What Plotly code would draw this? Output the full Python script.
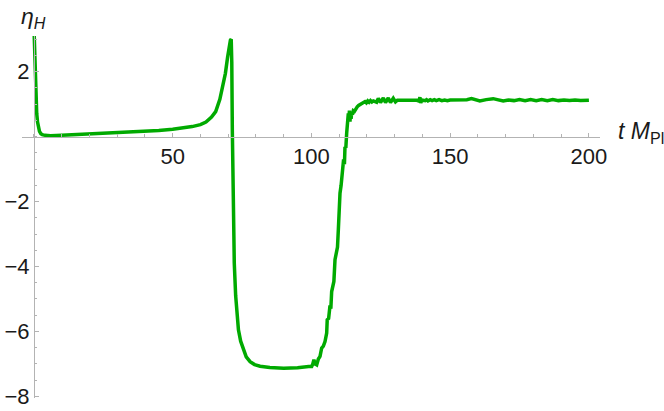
import plotly.graph_objects as go

# ---- data (t in units of 1/M_Pl, eta_H) ----
t_start = [0, 0.2, 0.4, 0.6, 0.8, 1.0, 1.3, 1.6, 2.0, 2.5, 3.0, 4.0, 6.0, 10, 15, 20, 25, 30, 35,
           40, 45, 50, 54, 57, 60, 62, 64, 65.5, 67, 68, 69, 69.8, 70.4, 70.8, 71.1]
eta_start = [3.4, 2.7, 2.0, 1.45, 1.0, 0.72, 0.45, 0.28, 0.16, 0.09, 0.06, 0.04, 0.03, 0.04, 0.06,
             0.08, 0.10, 0.12, 0.14, 0.16, 0.19, 0.23, 0.27, 0.31, 0.37, 0.45, 0.6, 0.77, 1.15, 1.5,
             1.95, 2.45, 2.8, 2.97, 3.0]

t_drop = [71.3, 71.5, 71.7, 71.9, 72.2, 72.7, 73.2, 73.7, 74.5, 75.5, 76.5, 77.9, 79.5, 81.5, 85,
          90, 95, 99]
eta_drop = [2.3, 0.2, -1.6, -2.9, -3.9, -4.9, -5.5, -5.95, -6.3, -6.56, -6.78, -6.93, -7.02, -7.07,
            -7.11, -7.13, -7.12, -7.08]

t_rise = [100.1, 100.5, 100.9, 101.3, 101.9, 102.5, 103.1, 103.7, 104.3, 104.9, 105.5, 105.7, 106.2,
          106.7, 107.0, 107.3, 107.7, 108.1, 108.5, 109.1, 109.4, 109.7, 109.9, 110.0, 110.1, 110.3,
          110.7, 111.0, 111.3, 111.6, 111.9, 112.1, 112.4, 112.7, 113.0, 113.3, 113.5, 113.7, 113.9,
          114.1, 114.3, 114.5, 114.8, 115.1, 115.5, 116.0, 116.5, 117.0, 117.5, 118.0, 118.7, 119.3,
          119.8, 120.3, 120.8, 121.3, 121.8, 122.3]
eta_rise = [-7.08, -7.0, -6.87, -7.0, -7.03, -6.85, -6.77, -6.51, -6.45, -6.31, -6.05, -5.64, -5.6,
            -5.2, -5.3, -4.77, -4.65, -4.46, -3.79, -3.43, -3.4, -2.87, -2.3, -1.8, -2.4, -1.74,
            -1.5, -1.24, -1.1, -0.7, -0.85, -0.31, -0.35, 0.1, 0.45, 0.72, 0.5, 0.8, 0.46,
            0.77, 0.55, 0.75, 0.68, 0.8, 0.78, 0.88, 0.92, 0.96, 0.99, 1.02, 1.04, 1.08,
            1.04, 1.1, 1.06, 1.11, 1.07, 1.1]

t_plateau = [123.5, 124.1, 124.9, 125.9, 126.7, 127.7, 128.5, 129.5, 130.3, 131.0, 132, 134, 136, 138,
             138.7, 139.1, 139.4, 139.8, 141, 141.5, 142, 142.8, 143.5, 144.3, 145, 146, 147, 148,
             149, 150, 152, 154, 156, 157.7, 160.7, 163, 165.5, 169.1, 171, 173, 175, 177, 179,
             181, 183, 185, 187, 189, 191, 193, 195, 197, 199, 200]
eta_plateau = [1.06, 1.18, 1.05, 1.19, 1.05, 1.19, 1.05, 1.18, 1.07, 1.12, 1.12, 1.13, 1.12, 1.12,
               1.10, 1.21, 1.04, 1.13, 1.11, 1.14, 1.10, 1.14, 1.11, 1.14, 1.11, 1.14, 1.11, 1.13,
               1.11, 1.13, 1.13, 1.13, 1.14, 1.17, 1.10, 1.14, 1.17, 1.10, 1.13, 1.11, 1.14, 1.11,
               1.14, 1.11, 1.14, 1.11, 1.14, 1.11, 1.13, 1.11, 1.13, 1.11, 1.13, 1.12]

x_ticks = [50, 100, 150, 200]
y_ticks = [-8, -6, -4, -2, 2]
y_tick_text = ["\u22128", "\u22126", "\u22124", "\u22122", "2"]

t_all = t_start + t_drop + t_rise + t_plateau
eta_all = eta_start + eta_drop + eta_rise + eta_plateau

# ---- layout parameters ----
X_MIN, X_MAX = -4.3, 204.0
Y_MIN, Y_MAX = -8.05, 3.1
AXIS_COLOR = "#b3b3b3"
FONT = "Liberation Sans, Arial, Helvetica, sans-serif"
TXT = "#1a1a1a"
FS = 22

fig = go.Figure()
fig.add_trace(go.Scatter(x=t_all, y=eta_all, mode="lines",
                         line=dict(color="#00aa00", width=3.5), hoverinfo="skip"))

fig.update_layout(
    width=664, height=411,
    margin=dict(l=22, r=64, t=36, b=13, autoexpand=False),
    plot_bgcolor="white", paper_bgcolor="white",
    showlegend=False,
    hovermode=False,
    font=dict(family=FONT, size=FS, color=TXT),
    xaxis=dict(
        range=[X_MIN, X_MAX], showgrid=False, zeroline=False, automargin=False,
        showline=True, linecolor=AXIS_COLOR, linewidth=1,
        anchor="free", position=(0 - Y_MIN) / (Y_MAX - Y_MIN), side="bottom",
        tickmode="array", tickvals=x_ticks, ticktext=[str(v) for v in x_ticks],
        ticks="inside", ticklen=4, tickcolor=AXIS_COLOR, tickwidth=1,
        minor=dict(ticks="inside", ticklen=2.5, tickcolor=AXIS_COLOR, tickwidth=1,
                   tickmode="linear", tick0=0, dtick=10),
        tickfont=dict(family=FONT, size=FS, color=TXT),
    ),
    yaxis=dict(
        range=[Y_MIN, Y_MAX], showgrid=False, zeroline=False, automargin=False,
        showline=True, linecolor=AXIS_COLOR, linewidth=1,
        anchor="free", position=(0 - X_MIN) / (X_MAX - X_MIN), side="left",
        tickmode="array", tickvals=y_ticks, ticktext=y_tick_text,
        ticks="inside", ticklen=4, tickcolor=AXIS_COLOR, tickwidth=1,
        minor=dict(ticks="inside", ticklen=2.5, tickcolor=AXIS_COLOR, tickwidth=1,
                   tickmode="linear", tick0=0, dtick=0.5),
        tickfont=dict(family=FONT, size=FS, color=TXT),
    ),
    annotations=[
        dict(text="<i>η</i><sub><i>H</i></sub>", xref="x", x=0, yref="paper", y=1.0,
             xanchor="center", yanchor="bottom", yshift=2, showarrow=False,
             font=dict(family=FONT, size=23, color=TXT)),
        dict(text="<i>t M</i><sub>Pl</sub>", xref="paper", x=1.0, yref="y", y=0,
             xanchor="left", yanchor="middle", xshift=16, yshift=4, showarrow=False,
             font=dict(family=FONT, size=23, color=TXT)),
    ],
)

fig.write_html("out.html",
               config={"displayModeBar": False, "staticPlot": True},
               post_script="document.body.style.margin='0';document.body.style.overflow='hidden';")
